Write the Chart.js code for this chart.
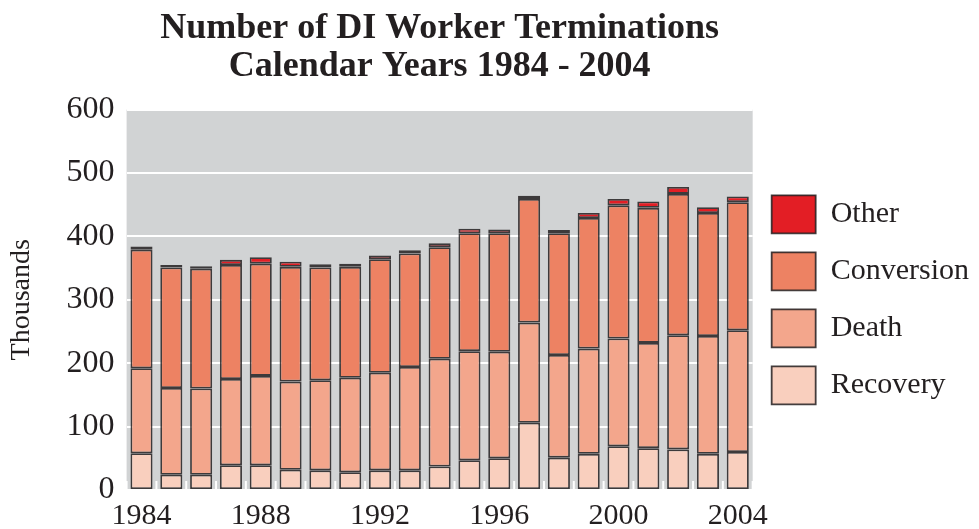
<!DOCTYPE html>
<html><head><meta charset="utf-8">
<script src="https://cdn.jsdelivr.net/npm/chart.js@4/dist/chart.umd.min.js"></script>
<style>html,body{margin:0;padding:0;background:#fff;} #wrap{width:979px;height:529px;position:relative;}</style>
</head><body><div id="wrap"><canvas id="c"></canvas></div>
<script>
const years = ['1984','1985','1986','1987','1988','1989','1990','1991','1992','1993','1994','1995','1996','1997','1998','1999','2000','2001','2002','2003','2004'];
const recovery   = [58,24,24,39,39,32,31,28,31,31,37,47,50,106,51,57,69,66,64,57,60];
const death      = [134,137,136,136,141,139,142,149,154,163,170,172,168,158,162,166,170,166,180,186,192];
const conversion = [187,190,189,180,177,181,178,175,179,179,176,186,187,195,192,206,210,213,223,194,202];
const other      = [5,4,4,8,10,8,5,5,6,5,6,7,6,5,5,8,10,10,11,9,9];
const yTicks = [0,100,200,300,400,500,600];
const labelEvery = 4;

const serif = "'Liberation Serif','Times New Roman',serif";
const ink = '#231f20';

const plotBg = {
  id: 'plotBg',
  beforeDraw(chart) {
    const {ctx, chartArea: a} = chart;
    ctx.save();
    ctx.fillStyle = '#d1d3d4';
    ctx.fillRect(a.left, a.top, a.right - a.left, a.bottom - a.top);
    ctx.restore();
  },
  afterDatasetsDraw(chart) {
    const {ctx, chartArea: a, scales: {x}} = chart;
    const step = x.getPixelForValue(1) - x.getPixelForValue(0);
    ctx.save();
    ctx.strokeStyle = '#ffffff';
    ctx.lineWidth = 2;
    for (let i = 0; i <= years.length; i++) {
      const px = x.getPixelForValue(0) - step / 2 + i * step;
      ctx.beginPath();
      ctx.moveTo(px, a.bottom);
      ctx.lineTo(px, a.bottom - 9);
      ctx.stroke();
    }
    ctx.restore();
  }
};

const common = {borderColor: 'rgba(35,31,32,0.85)', borderWidth: 1.8, borderSkipped: false, barPercentage: 0.74, categoryPercentage: 1.0};

new Chart(document.getElementById('c'), {
  type: 'bar',
  data: {
    labels: years,
    datasets: [
      Object.assign({label: 'Recovery', data: recovery, backgroundColor: '#f9cfbe'}, common),
      Object.assign({label: 'Death', data: death, backgroundColor: '#f3a68c'}, common),
      Object.assign({label: 'Conversion', data: conversion, backgroundColor: '#ed8263'}, common),
      Object.assign({label: 'Other', data: other, backgroundColor: '#e31e25'}, common)
    ]
  },
  plugins: [plotBg],
  options: {
    responsive: true, maintainAspectRatio: false, animation: false, devicePixelRatio: 1,
    layout: {padding: {left: 5, right: 0, top: 0, bottom: -13}},
    plugins: {
      tooltip: {enabled: false},
      title: {
        display: true, fullSize: false,
        text: ['Number of DI Worker Terminations', 'Calendar Years 1984 - 2004'],
        font: {family: serif, size: 36, weight: 'bold', lineHeight: 1.05},
        color: ink, padding: {top: 10, bottom: 24}
      },
      legend: {
        position: 'right', fullSize: false, reverse: true, maxWidth: 227,
        labels: {boxWidth: 44, boxHeight: 38, padding: 19, color: ink,
                 font: {family: serif, size: 30}}
      }
    },
    scales: {
      x: {
        stacked: true,
        grid: {display: false, drawTicks: false},
        border: {display: false},
        ticks: {
          autoSkip: false, maxRotation: 0, color: ink, padding: 11,
          font: {family: serif, size: 30, lineHeight: 1.0},
          callback: (v, i) => (i % labelEvery === 0 ? years[i] : '')
        }
      },
      y: {
        stacked: true, min: 0, max: 600,
        afterBuildTicks: (s) => { s.ticks = yTicks.map(v => ({value: v})); },
        grid: {color: '#ffffff', lineWidth: 2, drawTicks: false},
        border: {display: false},
        ticks: {color: ink, padding: 12, font: {family: serif, size: 32}},
        title: {display: true, text: 'Thousands', color: ink, font: {family: serif, size: 28}, padding: {top: 0, bottom: 16}}
      }
    }
  }
});
</script></body></html>
